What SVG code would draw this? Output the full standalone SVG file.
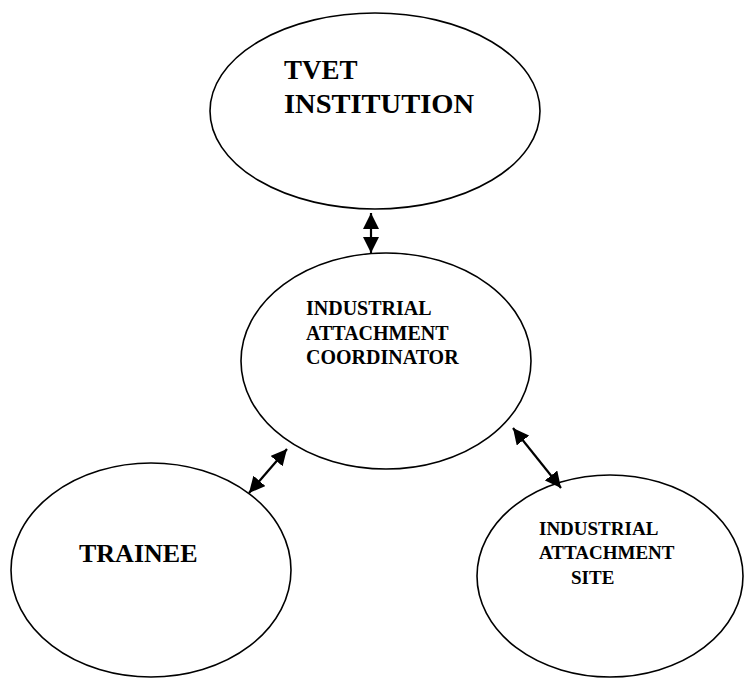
<svg xmlns="http://www.w3.org/2000/svg" width="748" height="678" viewBox="0 0 748 678">
<style>
.node ellipse{fill:#fff;stroke:#000;stroke-width:1.6}
.node text{font-family:'Liberation Serif','DejaVu Serif',serif;font-weight:700;fill:#000}
.conn line{stroke:#000;stroke-width:2.2}
</style>
<defs>
<marker id="ah" viewBox="0 0 16 16" markerWidth="16" markerHeight="16" refX="16" refY="8" orient="auto-start-reverse" markerUnits="userSpaceOnUse">
<path d="M0,0 L16,8 L0,16 z" fill="#000"/>
</marker>
</defs>
<rect width="748" height="678" fill="#fff"/>
<g id="tvet" class="node">
<ellipse cx="375" cy="111" rx="165" ry="98"/>
<text x="284" y="79" font-size="27" font-family="Liberation Serif">TVET</text>
<text x="284" y="113" font-size="27" font-family="Liberation Serif" textLength="190" lengthAdjust="spacingAndGlyphs">INSTITUTION</text>
</g>
<g id="coordinator" class="node">
<ellipse cx="386" cy="361" rx="145" ry="108"/>
<text x="306" y="315" font-size="20" font-family="Liberation Serif">INDUSTRIAL</text>
<text x="306" y="340" font-size="20" font-family="Liberation Serif">ATTACHMENT</text>
<text x="306" y="364" font-size="20" font-family="Liberation Serif">COORDINATOR</text>
</g>
<g id="trainee" class="node">
<ellipse cx="151" cy="570" rx="140" ry="107"/>
<text x="79" y="562" font-size="26" font-family="Liberation Serif">TRAINEE</text>
</g>
<g id="site" class="node">
<ellipse cx="610" cy="576" rx="133" ry="101"/>
<text x="539" y="535" font-size="19" font-family="Liberation Serif">INDUSTRIAL</text>
<text x="539" y="559" font-size="19" font-family="Liberation Serif">ATTACHMENT</text>
<text x="571" y="584" font-size="19" font-family="Liberation Serif">SITE</text>
</g>
<g id="connectors" class="conn">
<line x1="371" y1="213" x2="371" y2="253" marker-start="url(#ah)" marker-end="url(#ah)"/>
<line x1="249" y1="493" x2="287" y2="449" marker-start="url(#ah)" marker-end="url(#ah)"/>
<line x1="513" y1="428" x2="561" y2="488" marker-start="url(#ah)" marker-end="url(#ah)"/>
</g>
</svg>
